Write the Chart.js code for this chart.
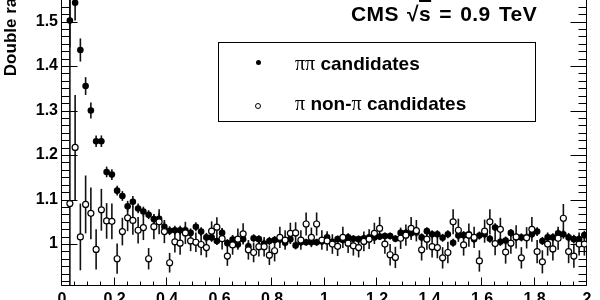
<!DOCTYPE html>
<html>
<head>
<meta charset="utf-8">
<script src="https://cdn.jsdelivr.net/npm/chart.js@4.4.1/dist/chart.umd.min.js"></script>
<style>
  html, body { margin: 0; padding: 0; background: #fff; overflow: hidden; }
  #wrap { position: relative; width: 600px; height: 300px; overflow: hidden; }
  #c { position: absolute; left: 0; top: -40px; }
  .txt { position: absolute; white-space: nowrap; color: #000; font-family: "Liberation Sans", Arial, sans-serif; font-weight: bold; }
  .title { left: 351px; top: 3px; font-size: 21px; line-height: 21px; letter-spacing: 0.4px; word-spacing: 2px; }
  .ov { text-decoration: overline; }
  .pi { font-family: "Liberation Serif", "Times New Roman", serif; font-weight: normal; font-size: 20px; }
  #legendBox { position: absolute; left: 218px; top: 42px; width: 316px; height: 78px; border: 1.5px solid #000; }
  .row { font-size: 19px; line-height: 19px; left: 295px; }
  .mk { position: absolute; border-radius: 50%; box-sizing: border-box; }
</style>
</head>
<body>
<div id="wrap">
  <canvas id="c" width="600" height="370"></canvas>
  <div class="txt title">CMS √<span class="ov">s</span> = 0.9 TeV</div>
  <div id="legendBox"></div>
  <div class="mk" style="left:256px; top:60px; width:5px; height:5px; background:#000;"></div>
  <div class="txt row" style="top:54px;"><span class="pi">ππ</span> candidates</div>
  <div class="mk" style="left:255px; top:103px; width:6px; height:6px; border:1px solid #000; background:#fff;"></div>
  <div class="txt row" style="top:94px;"><span class="pi">π</span> non-<span class="pi">π</span> candidates</div>
</div>
<script>
// bin centres of the invariant-mass histogram
const bins = [
  0.03, 0.05, 0.07, 0.09, 0.11, 0.13, 0.15, 0.17, 0.19, 0.21,
  0.23, 0.25, 0.27, 0.29, 0.31, 0.33, 0.35, 0.37, 0.39, 0.41,
  0.43, 0.45, 0.47, 0.49, 0.51, 0.53, 0.55, 0.57, 0.59, 0.61,
  0.63, 0.65, 0.67, 0.69, 0.71, 0.73, 0.75, 0.77, 0.79, 0.81,
  0.83, 0.85, 0.87, 0.89, 0.91, 0.93, 0.95, 0.97, 0.99, 1.01,
  1.03, 1.05, 1.07, 1.09, 1.11, 1.13, 1.15, 1.17, 1.19, 1.21,
  1.23, 1.25, 1.27, 1.29, 1.31, 1.33, 1.35, 1.37, 1.39, 1.41,
  1.43, 1.45, 1.47, 1.49, 1.51, 1.53, 1.55, 1.57, 1.59, 1.61,
  1.63, 1.65, 1.67, 1.69, 1.71, 1.73, 1.75, 1.77, 1.79, 1.81,
  1.83, 1.85, 1.87, 1.89, 1.91, 1.93, 1.95, 1.97, 1.99
];

// pi pi candidates (filled markers)
const pipiRatio = [
  1.502, 1.542, 1.436, 1.355, 1.300, 1.231, 1.231, 1.162, 1.156, 1.120,
  1.108, 1.085, 1.095, 1.080, 1.073, 1.066, 1.056, 1.057, 1.039, 1.030,
  1.031, 1.031, 1.031, 1.025, 1.039, 1.028, 1.015, 1.015, 1.007, 1.025,
  1.002, 1.010, 0.999, 1.011, 0.995, 1.013, 1.011, 1.001, 1.007, 1.009,
  1.010, 1.003, 1.011, 0.997, 1.004, 1.004, 1.004, 1.004, 1.006, 1.015,
  1.005, 1.011, 1.009, 1.015, 1.012, 1.011, 1.013, 1.015, 1.015, 1.017,
  1.018, 1.018, 1.012, 1.025, 1.025, 1.024, 1.026, 1.015, 1.029, 1.022,
  1.022, 1.014, 1.022, 1.003, 1.019, 1.020, 1.022, 1.011, 1.019, 1.022,
  1.012, 1.037, 1.005, 1.008, 1.025, 1.015, 1.015, 1.015, 1.022, 1.028,
  1.007, 1.015, 1.015, 1.024, 1.022, 1.015, 1.011, 1.011, 1.020
];
const pipiErr = [
  0.060, 0.040, 0.026, 0.020, 0.018, 0.013, 0.013, 0.012, 0.012, 0.011,
  0.011, 0.012, 0.013, 0.011, 0.011, 0.010, 0.011, 0.012, 0.011, 0.010,
  0.010, 0.010, 0.010, 0.010, 0.010, 0.010, 0.010, 0.010, 0.009, 0.010,
  0.009, 0.009, 0.009, 0.009, 0.009, 0.009, 0.009, 0.009, 0.009, 0.009,
  0.009, 0.009, 0.009, 0.009, 0.008, 0.008, 0.008, 0.008, 0.008, 0.009,
  0.008, 0.008, 0.008, 0.008, 0.008, 0.008, 0.008, 0.008, 0.008, 0.008,
  0.008, 0.008, 0.008, 0.009, 0.009, 0.009, 0.009, 0.009, 0.009, 0.009,
  0.009, 0.009, 0.009, 0.009, 0.009, 0.009, 0.009, 0.009, 0.009, 0.009,
  0.009, 0.010, 0.009, 0.009, 0.009, 0.009, 0.009, 0.009, 0.009, 0.010,
  0.009, 0.009, 0.009, 0.010, 0.010, 0.010, 0.010, 0.010, 0.010
];

// pi non-pi candidates (open markers)
const pinonpiRatio = [
  1.091, 1.217, 1.016, 1.089, 1.069, 0.988, 1.077, 1.052, 1.051, 0.967,
  1.028, 1.059, 1.053, 1.031, 1.037, 0.967, 1.039, 1.050, 1.028, 0.958,
  1.005, 1.002, 1.025, 1.007, 1.004, 0.999, 0.992, 1.029, 1.038, 1.012,
  0.973, 0.998, 1.011, 1.023, 0.987, 0.981, 0.994, 0.994, 0.975, 0.985,
  1.015, 1.009, 1.024, 1.025, 1.009, 1.045, 1.015, 1.045, 1.009, 1.007,
  1.000, 0.995, 1.015, 1.002, 0.996, 0.992, 1.006, 1.011, 1.024, 1.035,
  1.000, 0.976, 0.970, 1.013, 1.020, 1.035, 1.030, 0.987, 1.011, 0.994,
  0.992, 0.969, 0.981, 1.050, 1.031, 0.998, 1.020, 1.015, 0.962, 1.029,
  1.050, 1.001, 1.033, 0.982, 1.002, 1.016, 0.969, 1.014, 1.033, 0.983,
  0.960, 1.000, 0.989, 1.013, 1.058, 0.983, 0.973, 1.000, 1.000
];
const pinonpiErr = [
  0.500, 0.118, 0.075, 0.065, 0.058, 0.045, 0.047, 0.040, 0.040, 0.034,
  0.031, 0.030, 0.032, 0.030, 0.028, 0.024, 0.028, 0.028, 0.026, 0.022,
  0.024, 0.026, 0.025, 0.023, 0.022, 0.024, 0.022, 0.022, 0.022, 0.024,
  0.022, 0.022, 0.024, 0.024, 0.022, 0.022, 0.022, 0.022, 0.022, 0.024,
  0.024, 0.022, 0.024, 0.024, 0.022, 0.026, 0.022, 0.026, 0.022, 0.022,
  0.022, 0.022, 0.024, 0.022, 0.022, 0.022, 0.022, 0.022, 0.024, 0.026,
  0.022, 0.024, 0.024, 0.024, 0.024, 0.026, 0.024, 0.024, 0.024, 0.024,
  0.024, 0.024, 0.024, 0.028, 0.026, 0.024, 0.026, 0.024, 0.024, 0.026,
  0.028, 0.026, 0.026, 0.026, 0.024, 0.026, 0.024, 0.024, 0.028, 0.026,
  0.026, 0.026, 0.026, 0.026, 0.032, 0.026, 0.026, 0.026, 0.026
];

const labelFont = { family: '"Liberation Sans", Arial, sans-serif', size: 16, weight: 'bold' };

// vertical error bars, drawn under the markers
const errorBars = {
  id: 'errorBars',
  beforeDatasetsDraw(chart) {
    const { ctx, chartArea: a, scales: { y } } = chart;
    ctx.save();
    ctx.beginPath();
    ctx.rect(a.left, a.top, a.right - a.left, a.bottom - a.top);
    ctx.clip();
    ctx.strokeStyle = '#111';
    ctx.lineWidth = 1.6;
    chart.data.datasets.forEach((ds, di) => {
      const meta = chart.getDatasetMeta(di);
      meta.data.forEach((pt, i) => {
        const v = ds.data[i].y, e = ds.errors[i];
        ctx.beginPath();
        ctx.moveTo(pt.x, y.getPixelForValue(v - e));
        ctx.lineTo(pt.x, y.getPixelForValue(v + e));
        ctx.stroke();
      });
    });
    ctx.restore();
  }
};

// ROOT style frame with inward ticks on all four sides
const frameTicks = {
  id: 'frameTicks',
  beforeDatasetsDraw(chart) {
    const { ctx, chartArea: a, scales: { x, y } } = chart;
    const L = a.left - 0.5, R = a.right - 0.5, B = a.bottom + 0.5, T = a.top + 0.5;
    ctx.save();
    ctx.strokeStyle = '#000';
    ctx.lineWidth = 1;
    ctx.beginPath();
    ctx.moveTo(L, T); ctx.lineTo(L, B); ctx.lineTo(R, B); ctx.lineTo(R, T); ctx.closePath();
    for (let k = 0; k <= 40; k++) {
      const px = Math.round(x.getPixelForValue(k * 0.05)) - 0.5;
      const len = k % 4 === 0 ? 8 : 4;
      ctx.moveTo(px, B); ctx.lineTo(px, B - len);
      ctx.moveTo(px, T); ctx.lineTo(px, T + len);
    }
    for (let k = 0; k <= 42; k++) {
      const v = 0.9 + k * 0.1 / 6;
      if (v < y.min || v > y.max) continue;
      const py = Math.round(y.getPixelForValue(v)) + 0.5;
      const len = k % 6 === 0 ? 16 : 8;
      ctx.moveTo(L, py); ctx.lineTo(L + len, py);
      ctx.moveTo(R, py); ctx.lineTo(R - len, py);
    }
    ctx.stroke();
    ctx.restore();
  }
};

const ctx = document.getElementById('c').getContext('2d');
new Chart(ctx, {
  type: 'scatter',
  data: {
    datasets: [
      {
        label: 'π non-π candidates',
        data: bins.map((b, i) => ({ x: b, y: pinonpiRatio[i] })),
        errors: pinonpiErr,
        pointRadius: 3,
        pointBackgroundColor: '#fff',
        pointBorderColor: '#000',
        pointBorderWidth: 1.2,
        order: 0
      },
      {
        label: 'ππ candidates',
        data: bins.map((b, i) => ({ x: b, y: pipiRatio[i] })),
        errors: pipiErr,
        pointRadius: 3.3,
        pointBackgroundColor: '#000',
        pointBorderColor: '#000',
        pointBorderWidth: 0,
        order: 1
      }
    ]
  },
  options: {
    responsive: false,
    animation: false,
    devicePixelRatio: 1,
    layout: { padding: { left: 0, right: 13, top: 17, bottom: 0 } },
    plugins: { legend: { display: false }, tooltip: { enabled: false } },
    scales: {
      x: {
        type: 'linear', min: 0, max: 2,
        grid: { display: false, drawTicks: false },
        border: { display: false },
        ticks: {
          stepSize: 0.2, padding: 5, color: '#000', font: labelFont,
          maxRotation: 0, autoSkip: false,
          callback: v => String(Math.round(v * 10) / 10)
        },
        afterFit(s) { s.height = 45; }
      },
      y: {
        min: 0.908, max: 1.6,
        grid: { display: false, drawTicks: false },
        border: { display: false },
        ticks: {
          stepSize: 0.1, includeBounds: false, padding: 4, color: '#000', font: labelFont,
          callback: v => String(Math.round(v * 10) / 10)
        },
        title: {
          display: true, text: 'Double ratio', align: 'end', color: '#000',
          font: { family: '"Liberation Sans", Arial, sans-serif', size: 17, weight: 'bold' },
          padding: { top: 1, bottom: 0 }
        },
        afterFit(s) { s.width = 62; }
      }
    }
  },
  plugins: [errorBars, frameTicks]
});
</script>
</body>
</html>
